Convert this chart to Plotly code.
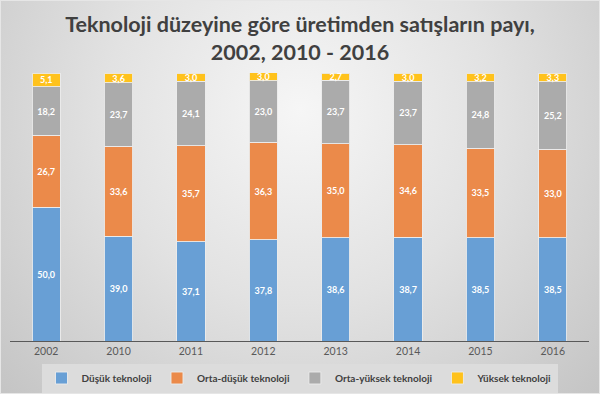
import base64
import plotly.graph_objects as go

years = ["2002", "2010", "2011", "2012", "2013", "2014", "2015", "2016"]
dusuk = [50.0, 39.0, 37.1, 37.8, 38.6, 38.7, 38.5, 38.5]
orta_dusuk = [26.7, 33.6, 35.7, 36.3, 35.0, 34.6, 33.5, 33.0]
orta_yuksek = [18.2, 23.7, 24.1, 23.0, 23.7, 23.7, 24.8, 25.2]
yuksek = [5.1, 3.6, 3.0, 3.0, 2.7, 3.0, 3.2, 3.3]

series = [
    ("Düşük teknoloji", dusuk, "#689fd5"),
    ("Orta-düşük teknoloji", orta_dusuk, "#eb8a4a"),
    ("Orta-yüksek teknoloji", orta_yuksek, "#ababab"),
    ("Yüksek teknoloji", yuksek, "#ffc21c"),
]

W, H = 600, 394
L, R, T, B = 10, 11, 73, 53
pw, ph = W - L - R, H - T - B

FONT = "Lato, 'Open Sans', sans-serif"

fig = go.Figure()
for name, vals, col in series:
    fig.add_trace(go.Bar(
        x=years, y=vals, name=name,
        marker=dict(color=col, line=dict(color="rgba(235,235,235,0.9)", width=1)),
        texttemplate="%{y:.1f}", textposition="inside",
        insidetextanchor="middle", constraintext="none",
        textfont=dict(color="white", size=9, family=FONT, weight="bold"),
        hoverinfo="skip",
    ))

svg = f'''<svg xmlns="http://www.w3.org/2000/svg" width="{W}" height="{H}" viewBox="0 0 {W} {H}">
<defs><radialGradient id="g" cx="300" cy="110" r="430" gradientUnits="userSpaceOnUse">
<stop offset="0" stop-color="#f6f6f6"/><stop offset="0.45" stop-color="#e2e2e2"/><stop offset="1" stop-color="#c2c2c2"/>
</radialGradient></defs>
<rect x="0" y="0" width="{W}" height="{H}" fill="url(#g)"/>
<rect x="0.5" y="0.5" width="{W-1}" height="{H-1}" fill="none" stroke="#e6e6e6" stroke-width="1"/>
</svg>'''
src = "data:image/svg+xml;base64," + base64.b64encode(svg.encode()).decode()

fig.add_layout_image(dict(
    source=src, xref="paper", yref="paper",
    x=-L / pw, y=(ph + T) / ph, sizex=W / pw, sizey=H / ph,
    xanchor="left", yanchor="top", sizing="stretch", layer="below",
))

fig.update_layout(
    width=W, height=H,
    margin=dict(l=L, r=R, t=T, b=B, pad=0, autoexpand=False),
    barmode="stack", bargap=0.61,
    separators=", ",
    paper_bgcolor="rgba(0,0,0,0)", plot_bgcolor="rgba(0,0,0,0)",
    title=dict(
        text="Teknoloji düzeyine göre üretimden satışların payı,<br>2002, 2010 - 2016",
        x=0.5, xanchor="center", yref="container", y=1 - 32 / H, yanchor="middle",
        font=dict(family=FONT, size=21.5, color="#404040", weight="bold"),
    ),
    font=dict(family=FONT, color="#595959"),
    showlegend=True,
    legend=dict(
        orientation="h", x=0.5, xanchor="center",
        y=(ph - (378 - T)) / ph, yanchor="middle",
        bgcolor="#dcdcdc", borderwidth=0,
        font=dict(family=FONT, size=10, color="#404040", weight="bold"),
        itemwidth=30, traceorder="normal",
    ),
    xaxis=dict(
        showline=True, linecolor="#595959", linewidth=1,
        ticks="", showgrid=False, tickfont=dict(size=10.5, color="#595959"),
        fixedrange=True,
    ),
    yaxis=dict(range=[0, 100], visible=False, showgrid=False, fixedrange=True),
)

fig.write_html(
    "out.html",
    config={"displayModeBar": False, "staticPlot": True},
    post_script="document.body.style.margin='0';document.body.style.overflow='hidden';",
)
